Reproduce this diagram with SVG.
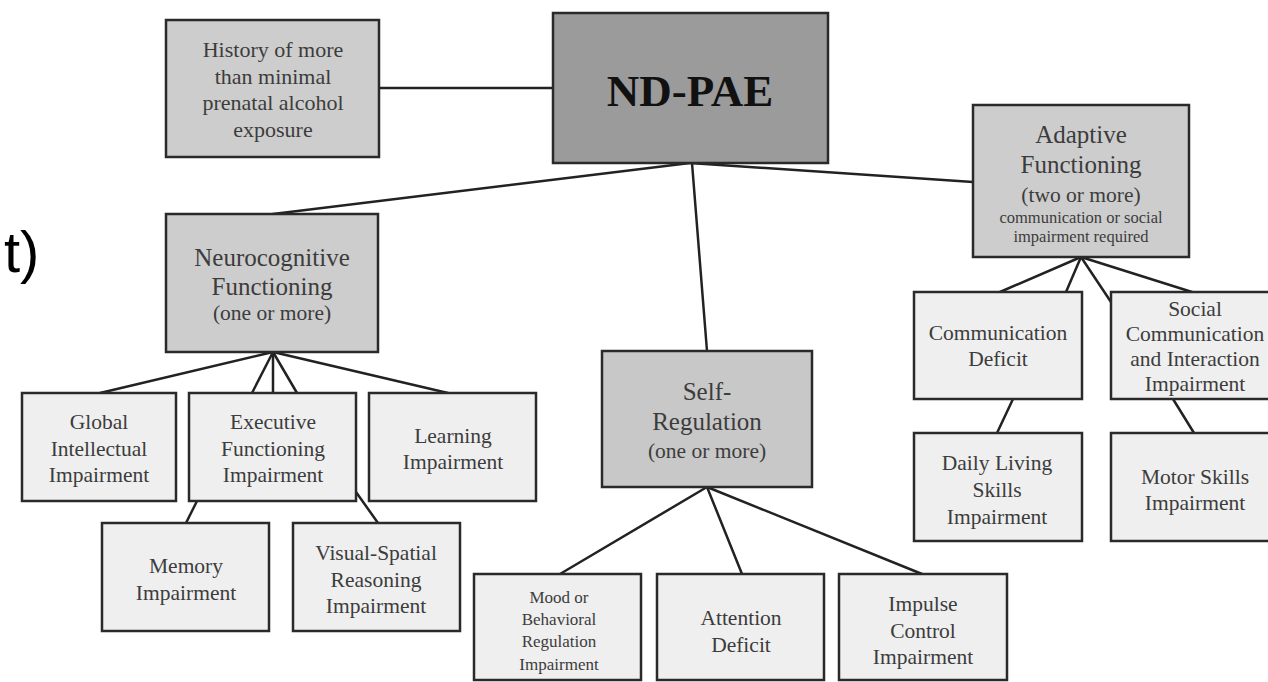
<svg xmlns="http://www.w3.org/2000/svg" width="1268" height="682" viewBox="0 0 1268 682">
<style>
.box{stroke:#2a2a2a;stroke-width:2.5}
.top{fill:#9b9b9b}
.mid{fill:#cdcdcd}
.leaf{fill:#efefef}
.t{font-family:"Liberation Serif","Times New Roman",serif;fill:#3c3c3c;text-anchor:middle}
.h{font-size:25px}
.l{font-size:21.5px}
.hi{font-size:22px}
.s{font-size:17px}
.xs{font-size:16.5px}
.conn line{stroke:#222;stroke-width:2.5;stroke-linecap:round}
</style>
<rect width="1268" height="682" fill="#fff"/>
<text x="4" y="272" font-family="Liberation Sans,Arial,sans-serif" font-size="58" fill="#000">t)</text>
<g class="conn" id="connectors">
<line x1="379" y1="88" x2="553" y2="88"/>
<line x1="690" y1="163" x2="273" y2="214"/>
<line x1="692" y1="163" x2="707" y2="351"/>
<line x1="690" y1="163" x2="973" y2="182"/>
<line x1="273" y1="352" x2="100" y2="393"/>
<line x1="273" y1="352" x2="252" y2="393"/>
<line x1="273" y1="352" x2="273" y2="393"/>
<line x1="273" y1="352" x2="297" y2="393"/>
<line x1="273" y1="352" x2="448" y2="393"/>
<line x1="197" y1="501" x2="186" y2="523"/>
<line x1="356" y1="492" x2="378" y2="523"/>
<line x1="707" y1="487" x2="560" y2="574"/>
<line x1="707" y1="487" x2="742" y2="574"/>
<line x1="707" y1="487" x2="922" y2="574"/>
<line x1="1081" y1="257" x2="1000" y2="292"/>
<line x1="1081" y1="257" x2="1066" y2="292"/>
<line x1="1081" y1="257" x2="1111" y2="302"/>
<line x1="1081" y1="257" x2="1192" y2="292"/>
<line x1="1013" y1="399" x2="997" y2="433"/>
<line x1="1173" y1="399" x2="1194" y2="433"/>
</g>
<g id="history">
<rect class="box mid" x="166" y="20" width="213" height="137"/>
<text class="t hi" x="273" y="57">History of more</text>
<text class="t hi" x="273" y="84">than minimal</text>
<text class="t hi" x="273" y="110">prenatal alcohol</text>
<text class="t hi" x="273" y="137">exposure</text>
</g>
<g id="ndpae">
<rect class="box top" x="553" y="13" width="275" height="150"/>
<text x="690" y="106" font-family="Liberation Serif,Times New Roman,serif" font-weight="bold" font-size="45" fill="#111" text-anchor="middle">ND-PAE</text>
</g>
<g id="adaptive">
<rect class="box mid" x="973" y="105" width="216" height="152"/>
<text class="t h" x="1081" y="143">Adaptive</text>
<text class="t h" x="1081" y="173">Functioning</text>
<text class="t l" x="1081" y="202">(two or more)</text>
<text class="t xs" x="1081" y="223">communication or social</text>
<text class="t xs" x="1081" y="242">impairment required</text>
</g>
<g id="neuro">
<rect class="box mid" x="166" y="214" width="212" height="138"/>
<text class="t h" x="272" y="266">Neurocognitive</text>
<text class="t h" x="272" y="295">Functioning</text>
<text class="t l" x="272" y="320">(one or more)</text>
</g>
<g id="selfreg">
<rect class="box" fill="#c8c8c8" x="602" y="351" width="210" height="136"/>
<text class="t h" x="707" y="400">Self-</text>
<text class="t h" x="707" y="430">Regulation</text>
<text class="t l" x="707" y="458">(one or more)</text>
</g>
<g id="global">
<rect class="box leaf" x="22" y="393" width="154" height="108"/>
<text class="t l" x="99" y="429">Global</text>
<text class="t l" x="99" y="456">Intellectual</text>
<text class="t l" x="99" y="482">Impairment</text>
</g>
<g id="exec">
<rect class="box leaf" x="189" y="393" width="167" height="108"/>
<text class="t l" x="273" y="429">Executive</text>
<text class="t l" x="273" y="456">Functioning</text>
<text class="t l" x="273" y="482">Impairment</text>
</g>
<g id="learning">
<rect class="box leaf" x="369" y="393" width="167" height="108"/>
<text class="t l" x="453" y="443">Learning</text>
<text class="t l" x="453" y="469">Impairment</text>
</g>
<g id="memory">
<rect class="box leaf" x="102" y="523" width="167" height="108"/>
<text class="t l" x="186" y="573">Memory</text>
<text class="t l" x="186" y="600">Impairment</text>
</g>
<g id="visual">
<rect class="box leaf" x="293" y="523" width="167" height="108"/>
<text class="t l" x="376" y="560">Visual-Spatial</text>
<text class="t l" x="376" y="587">Reasoning</text>
<text class="t l" x="376" y="613">Impairment</text>
</g>
<g id="mood">
<rect class="box leaf" x="474" y="574" width="167" height="106"/>
<text class="t s" x="559" y="603">Mood or</text>
<text class="t s" x="559" y="625">Behavioral</text>
<text class="t s" x="559" y="647">Regulation</text>
<text class="t s" x="559" y="670">Impairment</text>
</g>
<g id="attention">
<rect class="box leaf" x="657" y="574" width="167" height="106"/>
<text class="t l" x="741" y="625">Attention</text>
<text class="t l" x="741" y="652">Deficit</text>
</g>
<g id="impulse">
<rect class="box leaf" x="839" y="574" width="168" height="106"/>
<text class="t l" x="923" y="611">Impulse</text>
<text class="t l" x="923" y="638">Control</text>
<text class="t l" x="923" y="664">Impairment</text>
</g>
<g id="communication">
<rect class="box leaf" x="914" y="292" width="168" height="107"/>
<text class="t l" x="998" y="340">Communication</text>
<text class="t l" x="998" y="366">Deficit</text>
</g>
<g id="social">
<rect class="box leaf" x="1111" y="292" width="170" height="107"/>
<text class="t l" x="1195" y="316">Social</text>
<text class="t l" x="1195" y="341">Communication</text>
<text class="t l" x="1195" y="366">and Interaction</text>
<text class="t l" x="1195" y="391">Impairment</text>
</g>
<g id="daily">
<rect class="box leaf" x="914" y="433" width="168" height="108"/>
<text class="t l" x="997" y="470">Daily Living</text>
<text class="t l" x="997" y="497">Skills</text>
<text class="t l" x="997" y="524">Impairment</text>
</g>
<g id="motor">
<rect class="box leaf" x="1111" y="433" width="170" height="108"/>
<text class="t l" x="1195" y="484">Motor Skills</text>
<text class="t l" x="1195" y="510">Impairment</text>
</g>
</svg>
